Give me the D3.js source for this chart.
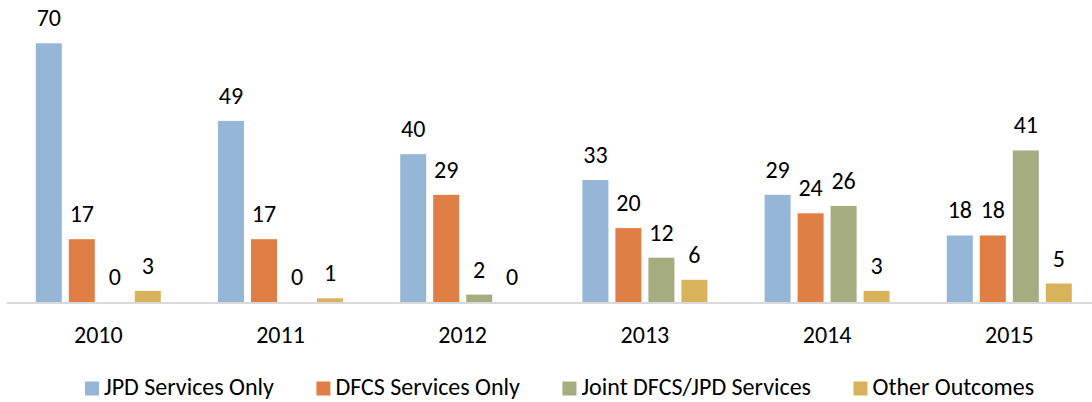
<!DOCTYPE html>
<html>
<head>
<meta charset="utf-8">
<script src="https://cdn.jsdelivr.net/npm/d3@7"></script>
<style>
  html, body { margin: 0; padding: 0; background: #fff; }
  svg { display: block; }
  text { font-family: Carlito, "Liberation Sans", Arial, sans-serif; fill: #000; }
</style>
</head>
<body>
<svg id="chart" width="1092" height="402"></svg>
<script>
// Case outcomes by year
const years = ["2010", "2011", "2012", "2013", "2014", "2015"];
const seriesNames = ["JPD Services Only", "DFCS Services Only", "Joint DFCS/JPD Services", "Other Outcomes"];
const jpdOnly   = [70, 49, 40, 33, 29, 18];
const dfcsOnly  = [17, 17, 29, 20, 24, 18];
const jointServ = [0, 0, 2, 12, 26, 41];
const otherOut  = [3, 1, 0, 6, 3, 5];
const seriesValues = [jpdOnly, dfcsOnly, jointServ, otherOut];
const colors = ["#95B6D6", "#DF7F46", "#A5AC80", "#D9B25C"];

const svg = d3.select("#chart");
const baseline = 302;
const fontSize = 24;

const x0 = d3.scaleBand().domain(years).range([7.2, 1100.4]);
const x1 = d3.scaleBand().domain(seriesNames).range([-66, 66]).paddingInner(7 / 33).paddingOuter(3.5 / 33);
const y = d3.scaleLinear().domain([0, 70]).range([baseline, 43.3]);

const rows = [];
years.forEach((yr, i) => {
  seriesNames.forEach((s, j) => {
    rows.push({ year: yr, series: s, value: seriesValues[j][i], color: colors[j] });
  });
});

const cx = d => x0(d.year) + x0.bandwidth() / 2 + x1(d.series);

svg.append("g").selectAll("rect").data(rows).join("rect")
  .attr("x", cx)
  .attr("y", d => y(d.value))
  .attr("width", x1.bandwidth())
  .attr("height", d => baseline - y(d.value))
  .attr("fill", d => d.color);

// category axis
svg.append("line")
  .attr("x1", 7).attr("x2", 1092)
  .attr("y1", baseline + 1).attr("y2", baseline + 1)
  .attr("stroke", "#d9d9d9").attr("stroke-width", 2);

svg.append("g").selectAll("text").data(years).join("text")
  .attr("x", d => x0(d) + x0.bandwidth() / 2)
  .attr("y", 342.5)
  .attr("text-anchor", "middle")
  .attr("font-size", fontSize)
  .text(d => d);

// value labels
svg.append("g").selectAll("text").data(rows).join("text")
  .attr("x", d => cx(d) + x1.bandwidth() / 2)
  .attr("y", d => y(d.value) - 17)
  .attr("text-anchor", "middle")
  .attr("font-size", fontSize)
  .text(d => d.value);

// legend
const legend = svg.append("g");
const items = legend.selectAll("g").data(seriesNames).join("g");
items.append("rect").attr("width", 14).attr("height", 14).attr("y", 381.5)
  .attr("fill", (d, i) => colors[i]);
items.append("text").attr("x", 19).attr("y", 394.5).attr("font-size", fontSize).text(d => d);
const widths = [];
items.each(function () { widths.push(19 + this.querySelector("text").getComputedTextLength()); });
const spacing = 42.5;
let off = 85;
items.attr("transform", (d, i) => {
  const t = `translate(${off},0)`;
  off += widths[i] + spacing;
  return t;
});
</script>
</body>
</html>
